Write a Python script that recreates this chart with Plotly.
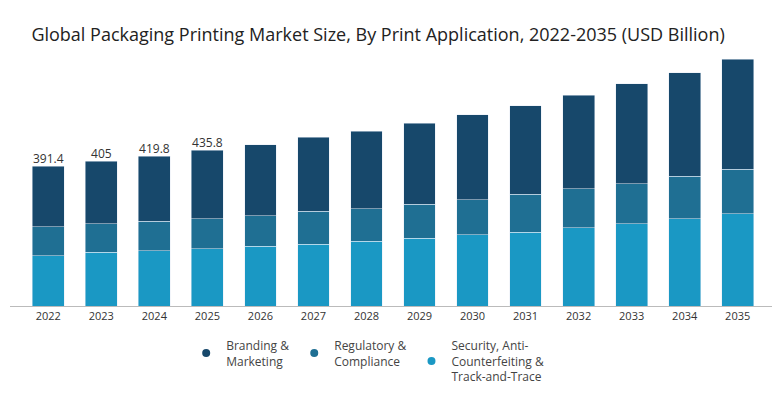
import plotly.graph_objects as go

years = [str(y) for y in range(2022, 2036)]
security = [141, 150, 155, 161, 167, 173, 181, 190, 199, 207, 219, 230, 245, 259]
regulatory = [81, 81, 83, 83, 86, 92, 92, 95, 98, 106, 109, 112, 118, 124]
branding = [169.4, 174, 181.8, 191.8, 199, 207, 216, 227, 238, 248, 262, 280, 290, 308]
total_labels = ["391.4", "405", "419.8", "435.8"] + [""] * 10

totals = [a + b + c for a, b, c in zip(security, regulatory, branding)]

series = [
    ("Security, Anti-<br>Counterfeiting &<br>Track-and-Trace", security, "#1a98c4"),
    ("Regulatory &<br>Compliance", regulatory, "#1f6f93"),
    ("Branding &<br>Marketing", branding, "#17486b"),
]

fig = go.Figure()
for name, vals, col in series:
    fig.add_trace(go.Bar(x=years, y=vals, name=name, marker_color=col, showlegend=False))
# legend entries with small round markers
for name, vals, col in series:
    fig.add_trace(go.Scatter(x=[None], y=[None], mode="markers", name=name,
                             marker=dict(color=col, size=8, symbol="circle")))
fig.add_trace(go.Scatter(x=years, y=totals, text=total_labels, mode="text", textposition="top center",
                         textfont=dict(size=12, color="#333"), showlegend=False, hoverinfo="skip"))

fig.update_layout(
    width=780, height=400, barmode="stack", bargap=0.4,
    paper_bgcolor="white", plot_bgcolor="white",
    font=dict(family="Open Sans", color="#333"),
    title=dict(text="Global Packaging Printing Market Size, By Print Application, 2022-2035 (USD Billion)",
               x=0.03, y=0.95, font=dict(size=18, color="#222")),
    margin=dict(l=2, r=12, t=48, b=102),
    xaxis=dict(showline=True, linecolor="#bbb", tickfont=dict(size=11)),
    yaxis=dict(visible=False, range=[0, 700]),
    legend=dict(orientation="h", traceorder="reversed", x=0.23, y=-0.1, xanchor="left", yanchor="top",
                font=dict(size=12, color="#444"), itemwidth=30),
)
fig.write_html("out.html")
